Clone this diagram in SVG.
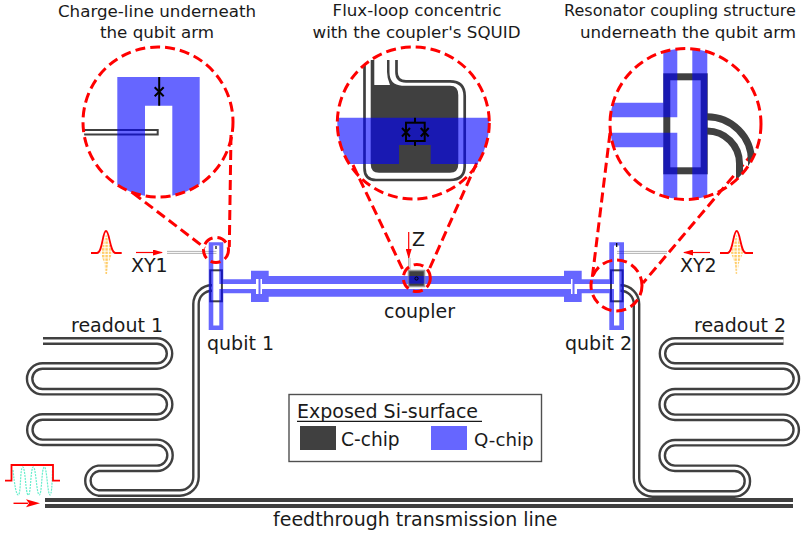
<svg xmlns="http://www.w3.org/2000/svg" width="811" height="534" viewBox="0 0 811 534">
<defs>
<style>
text{font-family:"DejaVu Sans","Liberation Sans",sans-serif;fill:#1a1a1a}
.t{font-size:16.7px;text-anchor:middle}
.l{font-size:19px}
.blue{fill:#00f;fill-opacity:.6;fill-rule:evenodd}
.dk{fill:#404040}
.cpwo{fill:none;stroke:#404040;stroke-width:7.8}
.cpwi{fill:none;stroke:#fff;stroke-width:3}
.red{fill:none;stroke:#f00;stroke-width:3;stroke-dasharray:10 5}
.rl{fill:none;stroke:#f00;stroke-width:1.2}
.sq{fill:none;stroke:#000;stroke-width:2}
.pl{fill:none;stroke:#f00;stroke-width:1.8}
.gr{fill:none;stroke:#aaa;stroke-width:.9}
</style>
<pattern id="dots" width="3.4" height="3.4" patternUnits="userSpaceOnUse"><rect width="2.4" height="2.4" fill="#ffcc66"/></pattern>
<clipPath id="c1"><circle cx="158" cy="122" r="75"/></clipPath>
<clipPath id="c2"><circle cx="413.3" cy="123" r="76"/></clipPath>
<clipPath id="c3"><circle cx="685.5" cy="124" r="75.5"/></clipPath>
<marker id="ah" markerWidth="10" markerHeight="6" refX="9" refY="3" orient="auto" markerUnits="userSpaceOnUse"><path d="M0,0 L10,3 L0,6 Z" fill="#f00"/></marker>
</defs>
<g id="feedline"><rect class="dk" x="45" y="498" width="748" height="4"/><rect class="dk" x="45" y="504" width="748" height="4"/></g>
<g id="connectors">
<path id="r1" class="cpwo" d="M43,341 H157 A12.5,12.5 0 0 1 157,366 H42.5 A12.8,12.8 0 0 0 42.5,391.7 H157 A12.5,12.5 0 0 1 157,417 H42.5 A12.6,12.6 0 0 0 42.5,442.3 H157 A13,13 0 0 1 157,468.3 H98.5 A12.5,12.5 0 0 0 98.5,493 H180 A16,16 0 0 0 196,477 V304 A16,16 0 0 1 212,288"/>
<path class="cpwi" d="M43,341 H157 A12.5,12.5 0 0 1 157,366 H42.5 A12.8,12.8 0 0 0 42.5,391.7 H157 A12.5,12.5 0 0 1 157,417 H42.5 A12.6,12.6 0 0 0 42.5,442.3 H157 A13,13 0 0 1 157,468.3 H98.5 A12.5,12.5 0 0 0 98.5,493 H180 A16,16 0 0 0 196,477 V304 A16,16 0 0 1 212,288"/>
<path id="r2" class="cpwo" d="M783.5,341 H675 A12.5,12.5 0 0 0 675,366 H783.5 A12.8,12.8 0 0 1 783.5,391.7 H675 A12.8,12.8 0 0 0 675,417.3 H783.5 A12.7,12.7 0 0 1 783.5,442.7 H675 A12.8,12.8 0 0 0 675,468.3 H734.5 A12.8,12.8 0 0 1 734.5,494 H652.5 A16,16 0 0 1 636.5,478 V304 A16,16 0 0 0 620.5,288"/>
<path class="cpwi" d="M783.5,341 H675 A12.5,12.5 0 0 0 675,366 H783.5 A12.8,12.8 0 0 1 783.5,391.7 H675 A12.8,12.8 0 0 0 675,417.3 H783.5 A12.7,12.7 0 0 1 783.5,442.7 H675 A12.8,12.8 0 0 0 675,468.3 H734.5 A12.8,12.8 0 0 1 734.5,494 H652.5 A16,16 0 0 1 636.5,478 V304 A16,16 0 0 0 620.5,288"/>
<path class="gr" d="M167,251.4 H216.5 M167,253.4 H216.5 M617,251.4 H667 M617,253.4 H667"/>
<path class="rl" marker-end="url(#ah)" d="M136,252.5 H162"/>
<path class="rl" marker-end="url(#ah)" d="M710,252.5 H684"/>
<path class="rl" marker-end="url(#ah)" d="M408.7,232 V258"/>
<path class="red" d="M133,193 L205,248 M231,135 L229.3,247"/>
<path class="red" d="M353,165 L404,272 M476.7,163 L428,272"/>
<path class="red" d="M610,133 L591.7,282 M753,153 L643,283"/>
</g>
<g id="chip">
<rect x="210.3" y="270.3" width="11.6" height="31" fill="none" stroke="#404040" stroke-width="2"/>
<rect x="611" y="270.3" width="11.6" height="31" fill="none" stroke="#404040" stroke-width="2"/>
<path class="blue" d="M208.7,242.3 H223.3 V279.3 H251 V270.7 H268.7 V276 H564 V270.7 H581.7 V279.3 H609.3 V242.3 H624 V330 H609.3 V293.3 H581.7 V302 H564 V296.8 H268.7 V302 H251 V293.3 H223.3 V330 H208.7 Z M213.3,245.5 V325.5 H219.3 V289 H256 V294 H258.5 V279 H256 V284 H219.3 V245.5 Z M260.5,279 V294 H262 V289 H571 V294 H572.5 V279 H571 V284 H262 V279 Z M574.5,279 V284 H614 V245.5 H619.3 V325.5 H614 V289 H577 V294 H574.5 Z"/>
<path d="M216,246 V249" stroke="#000" stroke-width="1.2"/>
<path d="M616.7,243 V247" stroke="#000" stroke-width="1.2"/>
</g>
<g id="coupler">
<path class="gr" d="M408.5,258 V270 M410,258 V270"/>
<rect x="408.5" y="270.5" width="16" height="16" fill="#404040" stroke="#999" stroke-width="1.5"/>
<rect x="408.5" y="276" width="16" height="7.7" class="blue"/>
<circle cx="416.5" cy="278.5" r="1.6" fill="none" stroke="#000" stroke-width="1"/>
</g>
<g id="inset1">
<g clip-path="url(#c1)">
<path d="M83,130 H157.7 V134.6 H83" fill="none" stroke="#404040" stroke-width="2"/>
<path class="blue" d="M117.3,77 H199.7 V200 H172.3 V105.7 H145 V200 H117.3 Z"/>
<path d="M159.2,77 V105.7" stroke="#000" stroke-width="2"/>
<path d="M154.7,87.2 L163.7,96.2 M163.7,87.2 L154.7,96.2" stroke="#000" stroke-width="2"/>
</g>
<circle class="red" cx="158" cy="122" r="75"/>
<circle class="red" cx="216" cy="250" r="12.5"/>
</g>
<g id="inset2">
<g clip-path="url(#c2)">
<path class="dk" d="M370.7,60 H374.3 V85 H390 Q387,78 387,72 V60 H389.5 V72 Q389.5,85 402,85.7 H450 Q458.3,85.7 458.3,95 V164 Q458.3,172.7 450,172.7 H379 Q370.7,172.7 370.7,164 Z"/>
<path d="M396.5,60 V72 Q396.5,81.3 406,81.3 H450 Q464.7,81.3 464.7,96 V166 Q464.7,180 450,180 H376 Q364.5,180 364.5,168 V60" fill="none" stroke="#404040" stroke-width="2.7"/>
<path class="blue" d="M330,117.7 H495 V164 H430.7 V145 H399 V164 H330 Z"/>
<path d="M415,117.7 V122.7 M415,141 V146" class="sq"/>
<rect class="sq" x="406" y="122.7" width="18.7" height="18.3"/>
<path class="sq" d="M402,128 L410,136.5 M410,128 L402,136.5 M420.7,128 L428.7,136.5 M428.7,128 L420.7,136.5"/>
</g>
<circle class="red" cx="413.3" cy="123" r="76"/>
<circle class="red" cx="416.8" cy="278" r="13.5"/>
</g>
<g id="inset3">
<g clip-path="url(#c3)">
<rect x="666.8" y="76.8" width="37.4" height="94" fill="none" stroke="#404040" stroke-width="7"/>
<path d="M707,116.7 A44.5,44.5 0 0 1 751.5,161.2 V190 M707,131 A32.5,32.5 0 0 1 739.5,163.5 V190" fill="none" stroke="#404040" stroke-width="7"/>
<path class="blue" d="M600,102.7 H663.3 V40 H677.3 V117.3 H600 Z M600,132.7 H677.3 V210 H663.3 V147.3 H600 Z M692.3,40 H707.3 V210 H692.3 Z"/>
</g>
<circle class="red" cx="685.5" cy="124" r="75.5"/>
<circle class="red" cx="616.5" cy="285.5" r="25.5"/>
</g>
<g id="pulse-xy1">
<path fill="url(#dots)" d="M106,234 L100.5,253 L104.5,264 L105.2,274 H107 L108,264 L112.5,253 Z"/>
<path class="pl" d="M91,253 H97 C102.5,253 102.5,231 106,231 C109.5,231 110,253 115.5,253 H121.7"/>
</g>
<g id="pulse-xy2">
<path fill="url(#dots)" d="M736.7,234 L731,253 L735,264 L735.8,274 H737.6 L738.6,264 L743,253 Z"/>
<path class="pl" d="M720,253 H727.5 C733,253 733.2,231 736.7,231 C740.2,231 740.6,253 746,253 H753"/>
</g>
<g id="pulse-ro">
<path d="M13,470 Q15.5,495 18.3,495 C21,495 20,467 22.7,467 C25.5,467 25.5,495 28.3,495 C31,495 30.5,467 33.3,467 C36,467 36.5,495 39.3,495 C42,495 41.5,467 44.3,467 C47,467 47.5,495 50,495 Q52,495 52.5,470" fill="none" stroke="#66eecc" stroke-width="1.2" stroke-dasharray="2 1"/>
<path class="pl" d="M5,480.7 H11.5 V465 H53 V480.7 H60"/>
<path d="M13.5,503.3 H28" stroke="#f00" stroke-width="1.4"/>
<path d="M26,499.3 L40,503.3 L26,507.3 L29,503.3 Z" fill="#f00"/>
</g>
<g id="labels">
<text class="t" x="157" y="17">Charge-line underneath</text>
<text class="t" x="157" y="38">the qubit arm</text>
<text class="t" x="417" y="16">Flux-loop concentric</text>
<text class="t" x="416.5" y="38">with the coupler's SQUID</text>
<text class="t" x="680" y="16" style="font-size:16px">Resonator coupling structure</text>
<text class="t" x="688" y="38">underneath the qubit arm</text>
<text class="l" x="412" y="246">Z</text>
<text class="l" x="131" y="272">XY1</text>
<text class="l" x="680" y="272">XY2</text>
<text class="l" x="71" y="332">readout 1</text>
<text class="l" x="694" y="332">readout 2</text>
<text class="l" x="207" y="350">qubit 1</text>
<text class="l" x="565" y="350">qubit 2</text>
<text class="l" x="384" y="318">coupler</text>
<text class="l" x="273" y="525.5">feedthrough transmission line</text>
</g>
<g id="legend">
<rect x="289" y="394.5" width="252.5" height="67" fill="#fff" stroke="#505050" stroke-width="1.4"/>
<text class="l" x="297" y="418">Exposed Si-surface</text>
<path d="M297,421.3 H482" stroke="#1a1a1a" stroke-width="1.2"/>
<rect class="dk" x="300" y="426" width="36" height="24"/>
<text class="l" x="341" y="446" style="font-size:18.6px">C-chip</text>
<rect x="431" y="426" width="36" height="24" fill="#6666ff"/>
<text class="l" x="474" y="446" style="font-size:18.2px">Q-chip</text>
</g>
</svg>
